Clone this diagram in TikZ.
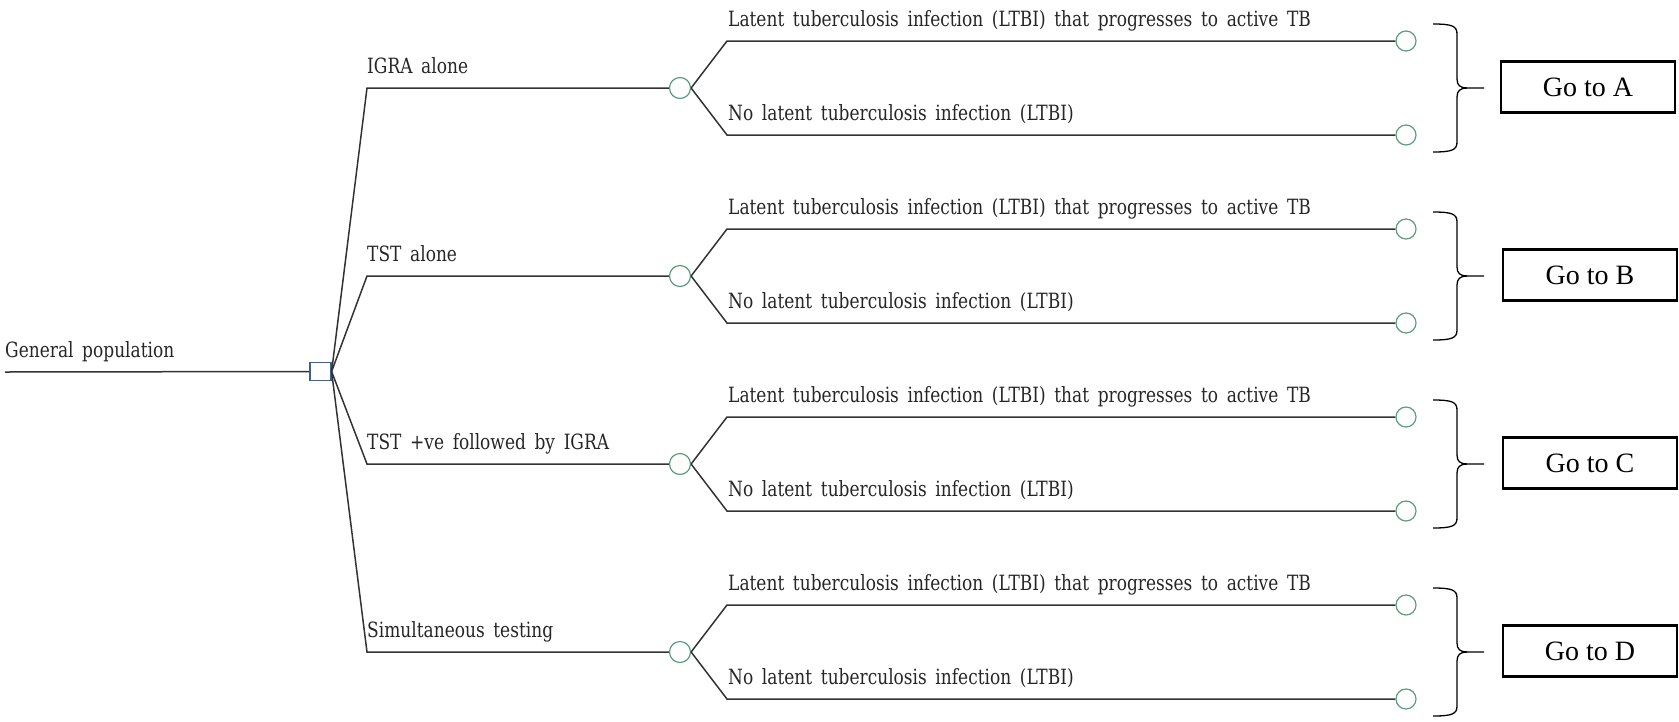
\documentclass[tikz,border=0pt]{standalone}
\usepackage{fontspec}
\newfontfamily\treefont[FakeStretch=0.81,WordSpace=1.6]{DejaVu Serif}
\newfontfamily\gofont{Liberation Serif}
\definecolor{treeline}{HTML}{333333}
\definecolor{sqblue}{HTML}{41608F}
\definecolor{cgreen}{HTML}{5E9C80}
\begin{document}
\begin{tikzpicture}[x=1pt,y=-1pt,
  branch/.style={draw=treeline, line width=1.5pt},
  decision/.style={draw=sqblue, fill=white, line width=1.2pt, minimum width=21pt, minimum height=18pt, inner sep=0pt},
  chance/.style={circle, draw=cgreen, fill=white, line width=1.2pt, minimum size=21pt, inner sep=0pt},
  txt/.style={anchor=base west, inner sep=0pt, text=black!85, font=\treefont\fontsize{21}{24}\selectfont},
  bracepath/.style={draw=black, line width=1.3pt},
  gobox/.style={draw=black, line width=2.5pt, minimum width=174pt, minimum height=51pt, inner sep=0pt, font=\gofont\fontsize{28}{32}\selectfont}
]
\useasboundingbox (0,0) rectangle (1679,721);

\node[decision] (dec) at (320.5,371.5) {};
\coordinate (gp) at (5,372);
\draw[branch] (gp) -- (dec.west);
\node[txt] (lgp) at (5,357.5) {General population};

\foreach \yc/\lab/\g/\bx [count=\i] in {88/IGRA alone/A/1588, 276/TST alone/B/1590, 464/TST +ve followed by IGRA/C/1590, 652/Simultaneous testing/D/1590}{
  \coordinate (b\i) at (367,\yc);
  \node[chance] (c\i) at (680,\yc) {};
  \draw[branch] (dec.east) -- (b\i) -- (c\i.west);
  \node[txt] (l\i) at (367,\yc-14.5) {\lab};
  \coordinate (u\i) at (727,\yc-47);
  \coordinate (d\i) at (727,\yc+47);
  \node[chance, minimum size=20pt] (eu\i) at (1406,\yc-47) {};
  \node[chance, minimum size=20pt] (ed\i) at (1406,\yc+47) {};
  \draw[branch] (c\i.east) -- (u\i) -- (eu\i.west);
  \draw[branch] (c\i.east) -- (d\i) -- (ed\i.west);
  \node[txt] (tu\i) at (728,\yc-47-14.5) {Latent tuberculosis infection (LTBI) that progresses to active TB};
  \node[txt] (td\i) at (728,\yc+47-14.5) {No latent tuberculosis infection (LTBI)};
  \coordinate (tip\i) at (1484,\yc);
  \draw[bracepath] (1433,\yc-64) .. controls (1452,\yc-64) and (1457,\yc-62) .. (1457,\yc-54) -- (1457,\yc-9) .. controls (1457,\yc-3) and (1460,\yc) .. (1467,\yc) -- (tip\i);
  \draw[bracepath] (1433,\yc+64) .. controls (1452,\yc+64) and (1457,\yc+62) .. (1457,\yc+54) -- (1457,\yc+9) .. controls (1457,\yc+3) and (1460,\yc) .. (1467,\yc);
  \node[gobox] (go\i) at (\bx,\yc-1) {Go to \g};
}
\end{tikzpicture}
\end{document}
